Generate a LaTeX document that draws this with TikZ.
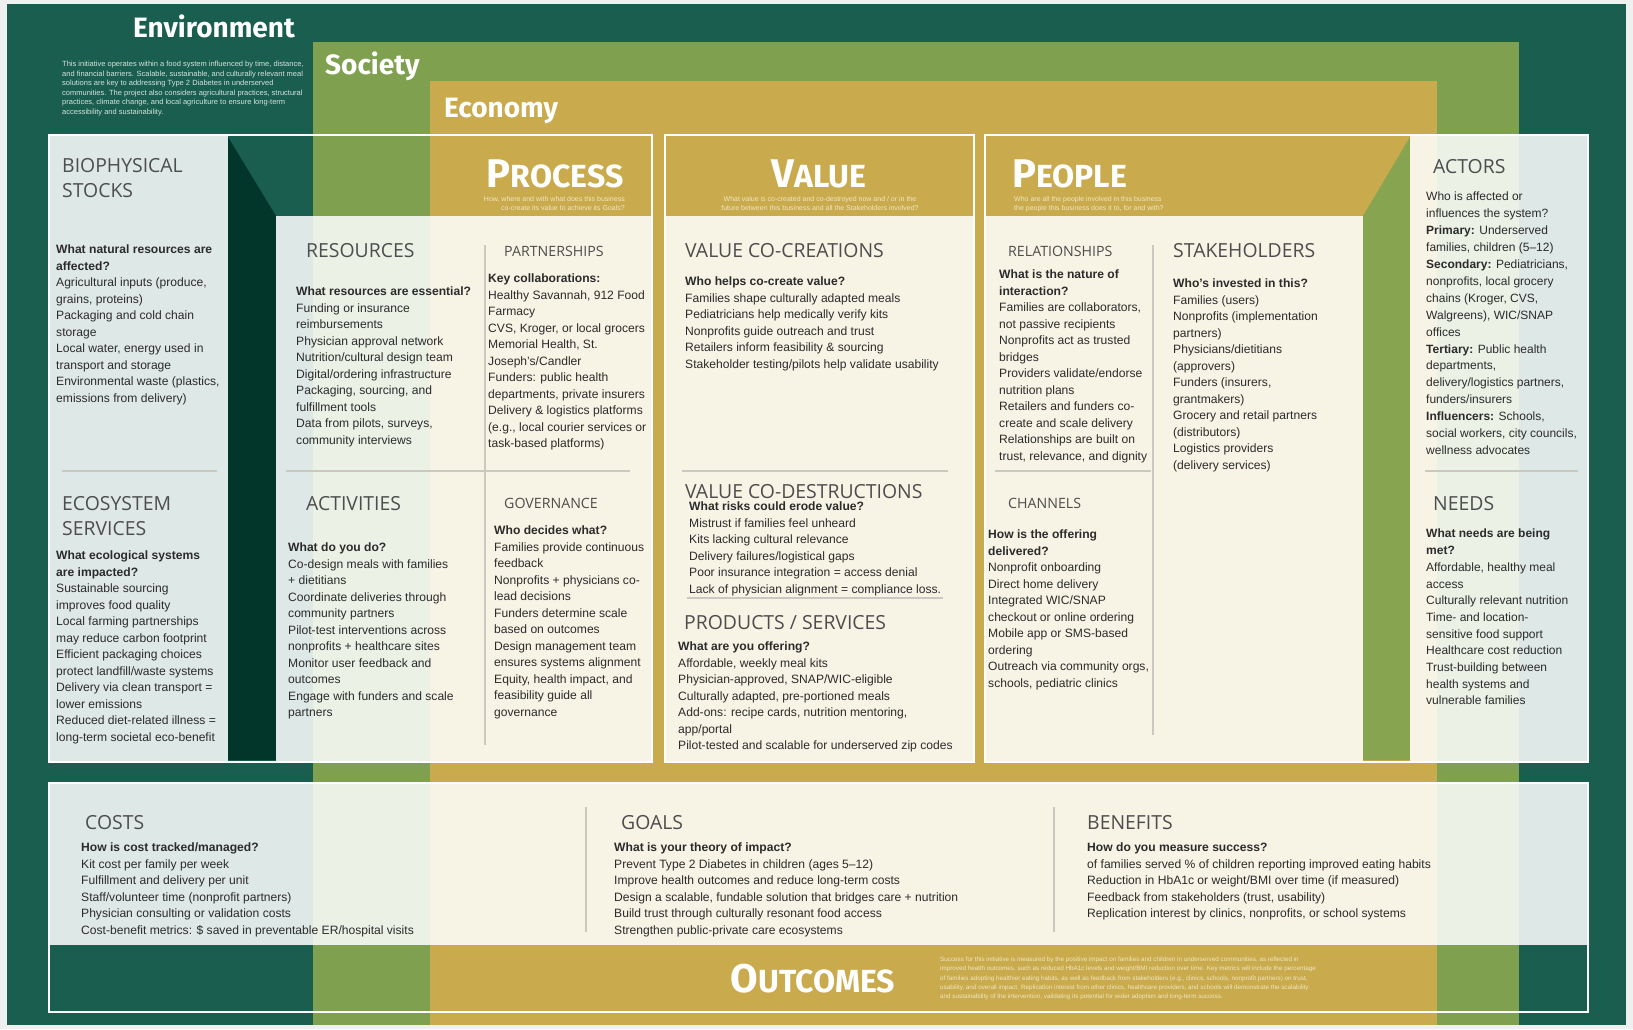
\documentclass[tikz,border=0pt]{standalone}
\usepackage{fontspec}
\setmainfont{Liberation Sans}
\newfontfamily\headfam{Open Sans}
\newfontfamily\titlefam{Fira Sans}
\usetikzlibrary{calc}

\definecolor{envgreen}{HTML}{1A5E50}
\definecolor{socgreen}{HTML}{7FA04E}
\definecolor{ecogold}{HTML}{C9AA4C}
\definecolor{deepgreen}{HTML}{03362A}
\definecolor{sidegreen}{HTML}{87A551}
\definecolor{pagegrey}{HTML}{EEF1F0}
\definecolor{headgrey}{HTML}{4D4D4D}
\definecolor{inkgrey}{HTML}{2B2B2B}
\definecolor{rulegrey}{HTML}{C9C9C2}
\definecolor{palegold}{HTML}{F1E7C3}
\definecolor{palegreen}{HTML}{D5E3DE}

\newcommand\bodyfont{\fontsize{12.1}{16.5}\selectfont}
\newcommand\headfont{\headfam\fontsize{19.4}{25}\selectfont}
\newcommand\smallheadfont{\headfam\fontsize{14.2}{16}\selectfont}
\newcommand\layerfont{\titlefam\bfseries\fontsize{28}{30}\selectfont}
\newcommand\capword[2]{{\fontsize{40}{40}\selectfont #1}{\fontsize{32}{32}\selectfont #2}}

\begin{document}
\begin{tikzpicture}[x=1pt,y=-1pt,
  panel/.style={fill=white,fill opacity=0.86},
  frame/.style={draw=white,line width=2.4pt},
  rule/.style={draw=rulegrey,line width=1.1pt},
  bodytext/.style={anchor=north west,inner sep=0pt,align=left,text=inkgrey,font=\bodyfont},
  headtext/.style={anchor=north west,inner sep=0pt,align=left,text=headgrey,font=\headfont},
  smallhead/.style={anchor=north west,inner sep=0pt,text=headgrey,font=\smallheadfont},
  layername/.style={anchor=base west,inner sep=0pt,text=white,font=\layerfont},
  boxtitle/.style={anchor=base,inner sep=0pt,text depth=0pt,text=white,font=\titlefam\bfseries},
  note/.style={inner sep=0pt,font=\fontsize{7}{9.3}\selectfont}]

\useasboundingbox (0,0) rectangle (1633,1029);

% nested layers
\fill[pagegrey] (0,0) rectangle (1633,1029);
\fill[envgreen] (7,4) rectangle (1626,1025);
\fill[socgreen] (313,42) rectangle (1519,1025);
\fill[ecogold] (430,81) rectangle (1437,1025);

% side wedges
\fill[deepgreen] (228,137) -- (276,216) -- (276,760) -- (228,760) -- cycle;
\fill[sidegreen] (1410,137) -- (1363,216) -- (1363,760) -- (1410,760) -- cycle;

% light panels
\fill[white,panel] (49,135) rectangle (228,762);
\fill[white,panel] (276,216) rectangle (652,762);
\fill[white,panel] (665,216) rectangle (974,762);
\fill[white,panel] (985,216) rectangle (1363,762);
\fill[white,panel] (1410,135) rectangle (1588,762);
\fill[white,panel] (49,783) rectangle (1588,945);

% frames
\draw[frame] (49,135) rectangle (652,762);
\draw[frame] (665,135) rectangle (974,762);
\draw[frame] (985,135) rectangle (1588,762);
\draw[frame] (49,783) rectangle (1588,1012);

% rules
\draw[rule] (62,471) -- (217,471);
\draw[rule] (286,471) -- (630,471);
\draw[rule] (485,245) -- (485,745);
\draw[rule] (682,471) -- (948,471);
\draw[rule] (687,598) -- (943,598);
\draw[rule] (995,471) -- (1151,471);
\draw[rule] (1153,245) -- (1153,735);
\draw[rule] (1425,471) -- (1578,471);
\draw[rule] (586,807) -- (586,932);
\draw[rule] (1054,807) -- (1054,932);

% layer names
\node[layername,anchor=base] (env) at (214,37) {Environment};
\node[layername] (soc) at (325,74) {Society};
\node[layername] (eco) at (444,117) {Economy};

\node[note,anchor=north west,align=left,text=palegreen,font=\fontsize{7.5}{9.5}\selectfont] (envnote) at (62,61)
  {This initiative operates within a food system influenced by time, distance,\\
   and financial barriers. Scalable, sustainable, and culturally relevant meal\\
   solutions are key to addressing Type 2 Diabetes in underserved\\
   communities. The project also considers agricultural practices, structural\\
   practices, climate change, and local agriculture to ensure long-term\\
   accessibility and sustainability.};

% box titles
\node[boxtitle] (process) at (555,187.5) {\capword{P}{ROCESS}};
\node[note,anchor=north east,align=right,text=palegold] (processnote) at (625,196)
  {How, where and with what does this business\\co-create its value to achieve its Goals?};
\node[boxtitle] (value) at (819,187.5) {\capword{V}{ALUE}};
\node[note,anchor=north,align=center,text=palegold] (valuenote) at (820,196)
  {What value is co-created and co-destroyed now and / or in the\\future between this business and all the Stakeholders involved?};
\node[boxtitle,anchor=base west] (people) at (1012,187.5) {\capword{P}{EOPLE}};
\node[note,anchor=north west,align=left,text=palegold] (peoplenote) at (1014,196)
  {Who are all the people involved in this business\\the people this business does it to, for and with?};

% biophysical stocks / ecosystem services
\node[headtext] (bioHead) at (62,158) {BIOPHYSICAL\\STOCKS};
\node[bodytext] (bioBody) at (56,245)
  {\textbf{What natural resources are}\\\textbf{affected?}\\Agricultural inputs (produce,\\grains, proteins)\\Packaging and cold chain\\storage\\Local water, energy used in\\transport and storage\\Environmental waste (plastics,\\emissions from delivery)};
\node[headtext] (ecoHead) at (62,496) {ECOSYSTEM\\SERVICES};
\node[bodytext] (ecoBody) at (56,551)
  {\textbf{What ecological systems}\\\textbf{are impacted?}\\Sustainable sourcing\\improves food quality\\Local farming partnerships\\may reduce carbon footprint\\Efficient packaging choices\\protect landfill/waste systems\\Delivery via clean transport =\\lower emissions\\Reduced diet-related illness =\\long-term societal eco-benefit};

% process
\node[headtext] (resHead) at (306,243) {RESOURCES};
\node[smallhead] (partHead) at (504,246) {PARTNERSHIPS};
\node[bodytext] (resBody) at (296,287)
  {\textbf{What resources are essential?}\\Funding or insurance\\reimbursements\\Physician approval network\\Nutrition/cultural design team\\Digital/ordering infrastructure\\Packaging, sourcing, and\\fulfillment tools\\Data from pilots, surveys,\\community interviews};
\node[bodytext] (partBody) at (488,274)
  {\textbf{Key collaborations:}\\Healthy Savannah, 912 Food\\Farmacy\\CVS, Kroger, or local grocers\\Memorial Health, St.\\Joseph's/Candler\\Funders: public health\\departments, private insurers\\Delivery \& logistics platforms\\(e.g., local courier services or\\task-based platforms)};
\node[headtext] (actHead) at (306,496) {ACTIVITIES};
\node[smallhead] (govHead) at (504,498) {GOVERNANCE};
\node[bodytext] (actBody) at (288,543)
  {\textbf{What do you do?}\\Co-design meals with families\\+ dietitians\\Coordinate deliveries through\\community partners\\Pilot-test interventions across\\nonprofits + healthcare sites\\Monitor user feedback and\\outcomes\\Engage with funders and scale\\partners};
\node[bodytext] (govBody) at (494,526)
  {\textbf{Who decides what?}\\Families provide continuous\\feedback\\Nonprofits + physicians co-\\lead decisions\\Funders determine scale\\based on outcomes\\Design management team\\ensures systems alignment\\Equity, health impact, and\\feasibility guide all\\governance};

% value
\node[headtext] (cocHead) at (685,243) {VALUE CO-CREATIONS};
\node[bodytext] (cocBody) at (685,277)
  {\textbf{Who helps co-create value?}\\Families shape culturally adapted meals\\Pediatricians help medically verify kits\\Nonprofits guide outreach and trust\\Retailers inform feasibility \& sourcing\\Stakeholder testing/pilots help validate usability};
\node[headtext] (codHead) at (685,484) {VALUE CO-DESTRUCTIONS};
\node[bodytext] (codBody) at (689,502)
  {\textbf{What risks could erode value?}\\Mistrust if families feel unheard\\Kits lacking cultural relevance\\Delivery failures/logistical gaps\\Poor insurance integration = access denial\\Lack of physician alignment = compliance loss.};
\node[headtext] (prodHead) at (684,615) {PRODUCTS / SERVICES};
\node[bodytext] (prodBody) at (678,642)
  {\textbf{What are you offering?}\\Affordable, weekly meal kits\\Physician-approved, SNAP/WIC-eligible\\Culturally adapted, pre-portioned meals\\Add-ons: recipe cards, nutrition mentoring,\\app/portal\\Pilot-tested and scalable for underserved zip codes};

% people
\node[smallhead] (relHead) at (1008,246) {RELATIONSHIPS};
\node[headtext] (stakeHead) at (1173,243) {STAKEHOLDERS};
\node[bodytext] (relBody) at (999,270)
  {\textbf{What is the nature of}\\\textbf{interaction?}\\Families are collaborators,\\not passive recipients\\Nonprofits act as trusted\\bridges\\Providers validate/endorse\\nutrition plans\\Retailers and funders co-\\create and scale delivery\\Relationships are built on\\trust, relevance, and dignity};
\node[bodytext] (stakeBody) at (1173,279)
  {\textbf{Who's invested in this?}\\Families (users)\\Nonprofits (implementation\\partners)\\Physicians/dietitians\\(approvers)\\Funders (insurers,\\grantmakers)\\Grocery and retail partners\\(distributors)\\Logistics providers\\(delivery services)};
\node[smallhead] (chanHead) at (1008,498) {CHANNELS};
\node[bodytext] (chanBody) at (988,530)
  {\textbf{How is the offering}\\\textbf{delivered?}\\Nonprofit onboarding\\Direct home delivery\\Integrated WIC/SNAP\\checkout or online ordering\\Mobile app or SMS-based\\ordering\\Outreach via community orgs,\\schools, pediatric clinics};

% actors / needs
\node[headtext] (actorsHead) at (1433,159) {ACTORS};
\node[bodytext,font=\fontsize{12}{16.9}\selectfont] (actorsBody) at (1426,192)
  {Who is affected or\\influences the system?\\\textbf{Primary:} Underserved\\families, children (5--12)\\\textbf{Secondary:} Pediatricians,\\nonprofits, local grocery\\chains (Kroger, CVS,\\Walgreens), WIC/SNAP\\offices\\\textbf{Tertiary:} Public health\\departments,\\delivery/logistics partners,\\funders/insurers\\\textbf{Influencers:} Schools,\\social workers, city councils,\\wellness advocates};
\node[headtext] (needsHead) at (1433,496) {NEEDS};
\node[bodytext,font=\fontsize{12}{16.7}\selectfont] (needsBody) at (1426,529)
  {\textbf{What needs are being}\\\textbf{met?}\\Affordable, healthy meal\\access\\Culturally relevant nutrition\\Time- and location-\\sensitive food support\\Healthcare cost reduction\\Trust-building between\\health systems and\\vulnerable families};

% costs / goals / benefits
\node[headtext] (costsHead) at (85,815) {COSTS};
\node[bodytext] (costsBody) at (81,843)
  {\textbf{How is cost tracked/managed?}\\Kit cost per family per week\\Fulfillment and delivery per unit\\Staff/volunteer time (nonprofit partners)\\Physician consulting or validation costs\\Cost-benefit metrics: \$ saved in preventable ER/hospital visits};
\node[headtext] (goalsHead) at (621,815) {GOALS};
\node[bodytext] (goalsBody) at (614,843)
  {\textbf{What is your theory of impact?}\\Prevent Type 2 Diabetes in children (ages 5--12)\\Improve health outcomes and reduce long-term costs\\Design a scalable, fundable solution that bridges care + nutrition\\Build trust through culturally resonant food access\\Strengthen public-private care ecosystems};
\node[headtext] (benHead) at (1087,815) {BENEFITS};
\node[bodytext] (benBody) at (1087,843)
  {\textbf{How do you measure success?}\\of families served \% of children reporting improved eating habits\\Reduction in HbA1c or weight/BMI over time (if measured)\\Feedback from stakeholders (trust, usability)\\Replication interest by clinics, nonprofits, or school systems};

% outcomes
\node[boxtitle] (outcomes) at (813,992) {\capword{O}{UTCOMES}};
\node[note,anchor=north west,align=left,text=palegold,font=\fontsize{6.3}{9.2}\selectfont] (outcomesnote) at (940,957)
  {Success for this initiative is measured by the positive impact on families and children in underserved communities, as reflected in\\
   improved health outcomes, such as reduced HbA1c levels and weight/BMI reduction over time. Key metrics will include the percentage\\
   of families adopting healthier eating habits, as well as feedback from stakeholders (e.g., clinics, schools, nonprofit partners) on trust,\\
   usability, and overall impact. Replication interest from other clinics, healthcare providers, and schools will demonstrate the scalability\\
   and sustainability of the intervention, validating its potential for wider adoption and long-term success.};

\end{tikzpicture}
\end{document}
